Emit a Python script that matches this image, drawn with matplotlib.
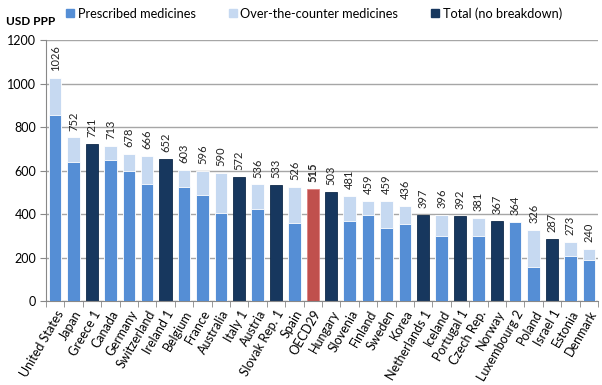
import numpy as np
import matplotlib
matplotlib.use("Agg")
import matplotlib.pyplot as plt
from matplotlib.patches import Patch

countries = ["United States", "Japan", "Greece 1", "Canada", "Germany", "Switzerland",
             "Ireland 1", "Belgium", "France", "Australia", "Italy 1", "Austria",
             "Slovak Rep. 1", "Spain", "OECD29", "Hungary", "Slovenia", "Finland",
             "Sweden", "Korea", "Netherlands 1", "Iceland", "Portugal 1", "Czech Rep.",
             "Norway", "Luxembourg 2", "Poland", "Israel 1", "Estonia", "Denmark"]
totals = [1026, 752, 721, 713, 678, 666, 652, 603, 596, 590, 572, 536, 533, 526,
          515, 503, 481, 459, 459, 436, 397, 396, 392, 381, 367, 364, 326, 287, 273, 240]
# prescribed part (None = no breakdown)
prescribed = [857, 640, None, 647, 597, 538, None, 525, 489, 405, None, 425, None, 361,
              None, None, 368, 397, 334, 355, None, 301, None, 297, None, 364, 155, None, 209, 190]
# kind of bar: "split", "total", "oecd"
kind = ["split", "split", "total", "split", "split", "split", "total", "split", "split",
        "split", "total", "split", "total", "split", "oecd", "total", "split", "split",
        "split", "split", "total", "split", "total", "split", "total", "split", "split",
        "total", "split", "split"]

C_RX = "#558ed5"
C_OTC = "#c6d9f1"
C_TOT = "#17375e"
C_OECD = "#c0504d"

plt.rcParams["font.family"] = ["Lato", "DejaVu Sans"]

fig = plt.figure(figsize=(6.02, 3.85), dpi=100)
ax = fig.add_axes([0.0764, 0.218, 0.917, 0.678])

x = np.arange(len(countries))
w = 0.68
for i in x:
    if kind[i] == "split":
        ax.bar(i, totals[i], width=w, color=C_OTC, edgecolor="white", linewidth=0.6, zorder=2)
        ax.bar(i, prescribed[i], width=w, color=C_RX, edgecolor="white", linewidth=0.6, zorder=3)
    elif kind[i] == "total":
        ax.bar(i, totals[i], width=w, color=C_TOT, edgecolor="#0f2a4a", linewidth=0.6, zorder=2)
    else:
        ax.bar(i, totals[i], width=w, color=C_OECD, edgecolor="#e08080", linewidth=0.6, zorder=2)
    ax.text(i, totals[i] + 32, str(totals[i]), rotation=90, ha="center", va="bottom",
            fontsize=8, color="#222222",
            fontweight="bold" if kind[i] == "oecd" else "normal")

ax.set_xlim(-0.5, len(countries) - 0.5)
ax.set_ylim(0, 1200)
ax.set_yticks(range(0, 1201, 200))
ax.tick_params(axis="y", labelsize=9, length=4, color="#888888", pad=3)
ax.set_xticks(x)
ax.set_xticklabels(countries, rotation=60, ha="right", rotation_mode="anchor", fontsize=9)
ax.tick_params(axis="x", which="major", length=0, pad=5)
ax.set_xticks(np.arange(-0.5, len(countries), 1), minor=True)
ax.tick_params(axis="x", which="minor", length=4, color="#888888")

ax.yaxis.grid(True, color="#a6a6a6", linewidth=1, zorder=0)
ax.set_axisbelow(True)
for s in ["top", "right"]:
    ax.spines[s].set_visible(False)
ax.spines["left"].set_color("#888888")
ax.spines["bottom"].set_color("#888888")

handles = [Patch(color=C_RX, label="Prescribed medicines"),
           Patch(color=C_OTC, label="Over-the-counter medicines"),
           Patch(color=C_TOT, label="Total (no breakdown)")]
fig.legend(handles=handles, loc="center", bbox_to_anchor=(0.522, 0.965), ncol=3,
           frameon=False, fontsize=9.2, handlelength=0.6, handleheight=0.6,
           handletextpad=0.3, columnspacing=2.6)

fig.text(0.01, 0.945, "USD PPP", fontsize=8.5, fontweight="bold", va="center")

fig.savefig("out.png", dpi=100)
